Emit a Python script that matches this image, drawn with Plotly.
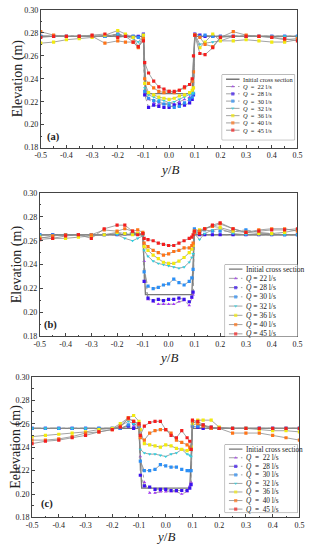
import plotly.graph_objects as go

W, H = 315, 550

# ---------------- data ----------------
y_over_B = [-0.5, -0.45, -0.4, -0.35, -0.3, -0.25, -0.2, -0.17, -0.14, -0.12, -0.1,
            -0.095, -0.08, -0.06, -0.04, -0.02, 0.0, 0.02, 0.04, 0.06, 0.08, 0.09, 0.095,
            0.1, 0.12, 0.14, 0.17, 0.2, 0.25, 0.3, 0.35, 0.4, 0.45, 0.5]
init_x = [-0.5, -0.1, -0.09, 0.09, 0.1, 0.5]

series_labels = ["22", "28", "30", "32", "36", "40", "45"]
x_ticks = [-0.5, -0.4, -0.3, -0.2, -0.1, 0.0, 0.1, 0.2, 0.3, 0.4, 0.5]
y_ticks = [0.18, 0.20, 0.22, 0.24, 0.26, 0.28, 0.30]

# panel (a)
a_init = [0.277, 0.277, 0.227, 0.227, 0.277, 0.277]
a_q22 = [0.277, 0.277, 0.277, 0.277, 0.277, 0.277, 0.278, 0.277, 0.277, 0.277, 0.278,
         0.227, 0.222, 0.219, 0.218, 0.218, 0.219, 0.218, 0.220, 0.222, 0.224, 0.226, 0.228,
         0.279, 0.277, 0.277, 0.277, 0.277, 0.277, 0.277, 0.277, 0.277, 0.277, 0.277]
a_q28 = [0.277, 0.277, 0.277, 0.277, 0.277, 0.277, 0.279, 0.278, 0.277, 0.277, 0.279,
         0.226, 0.215, 0.217, 0.216, 0.215, 0.215, 0.217, 0.218, 0.217, 0.219, 0.222, 0.226,
         0.279, 0.278, 0.277, 0.277, 0.277, 0.277, 0.277, 0.277, 0.277, 0.277, 0.277]
a_q30 = [0.277, 0.277, 0.277, 0.277, 0.277, 0.277, 0.278, 0.277, 0.277, 0.276, 0.278,
         0.229, 0.223, 0.221, 0.220, 0.218, 0.217, 0.215, 0.216, 0.219, 0.222, 0.224, 0.227,
         0.278, 0.277, 0.278, 0.277, 0.277, 0.277, 0.277, 0.277, 0.277, 0.277, 0.277]
a_q32 = [0.277, 0.277, 0.277, 0.277, 0.277, 0.277, 0.279, 0.277, 0.275, 0.272, 0.278,
         0.232, 0.226, 0.224, 0.222, 0.221, 0.219, 0.220, 0.222, 0.224, 0.226, 0.227, 0.228,
         0.279, 0.270, 0.271, 0.272, 0.273, 0.277, 0.277, 0.277, 0.277, 0.277, 0.277]
a_q36 = [0.271, 0.272, 0.274, 0.275, 0.276, 0.278, 0.282, 0.279, 0.276, 0.268, 0.278,
         0.236, 0.228, 0.226, 0.224, 0.223, 0.222, 0.223, 0.225, 0.226, 0.228, 0.230, 0.232,
         0.278, 0.267, 0.272, 0.279, 0.273, 0.273, 0.274, 0.273, 0.272, 0.272, 0.274]
a_q40 = [0.281, 0.278, 0.277, 0.277, 0.277, 0.271, 0.273, 0.272, 0.272, 0.267, 0.275,
         0.240, 0.236, 0.232, 0.229, 0.228, 0.229, 0.228, 0.230, 0.232, 0.235, 0.238, 0.246,
         0.278, 0.276, 0.270, 0.268, 0.276, 0.281, 0.278, 0.277, 0.276, 0.274, 0.275]
a_q45 = [0.276, 0.277, 0.277, 0.277, 0.278, 0.279, 0.276, 0.277, 0.272, 0.268, 0.273,
         0.254, 0.245, 0.238, 0.233, 0.231, 0.229, 0.229, 0.230, 0.233, 0.235, 0.240, 0.260,
         0.278, 0.262, 0.261, 0.267, 0.276, 0.277, 0.277, 0.277, 0.276, 0.275, 0.273]

# panel (b)
b_init = [0.265, 0.265, 0.215, 0.215, 0.265, 0.265]
b_q22 = [0.265, 0.265, 0.265, 0.265, 0.265, 0.265, 0.265, 0.265, 0.266, 0.266, 0.266,
         0.243, 0.211, 0.209, 0.207, 0.207, 0.207, 0.207, 0.209, 0.210, 0.206, 0.212, 0.215,
         0.266, 0.265, 0.265, 0.265, 0.265, 0.265, 0.265, 0.265, 0.265, 0.265, 0.265]
b_q28 = [0.265, 0.265, 0.265, 0.265, 0.265, 0.265, 0.265, 0.266, 0.266, 0.266, 0.266,
         0.226, 0.212, 0.210, 0.211, 0.210, 0.211, 0.211, 0.212, 0.211, 0.209, 0.213, 0.217,
         0.267, 0.265, 0.265, 0.265, 0.265, 0.265, 0.265, 0.265, 0.265, 0.265, 0.265]
b_q30 = [0.265, 0.265, 0.265, 0.265, 0.265, 0.265, 0.266, 0.266, 0.267, 0.266, 0.266,
         0.234, 0.222, 0.220, 0.221, 0.223, 0.224, 0.228, 0.225, 0.223, 0.226, 0.229, 0.236,
         0.270, 0.268, 0.269, 0.268, 0.268, 0.268, 0.269, 0.267, 0.266, 0.265, 0.265]
b_q32 = [0.265, 0.265, 0.265, 0.265, 0.265, 0.265, 0.265, 0.262, 0.260, 0.262, 0.264,
         0.252, 0.247, 0.243, 0.241, 0.240, 0.239, 0.238, 0.237, 0.238, 0.242, 0.246, 0.249,
         0.266, 0.261, 0.266, 0.269, 0.270, 0.266, 0.265, 0.265, 0.265, 0.265, 0.265]
b_q36 = [0.263, 0.262, 0.262, 0.263, 0.264, 0.265, 0.267, 0.266, 0.265, 0.266, 0.266,
         0.255, 0.252, 0.248, 0.245, 0.242, 0.241, 0.241, 0.243, 0.246, 0.250, 0.253, 0.256,
         0.268, 0.269, 0.270, 0.272, 0.271, 0.268, 0.267, 0.266, 0.266, 0.267, 0.269]
b_q40 = [0.262, 0.264, 0.265, 0.265, 0.265, 0.269, 0.268, 0.270, 0.268, 0.269, 0.267,
         0.258, 0.255, 0.252, 0.250, 0.248, 0.249, 0.251, 0.252, 0.254, 0.254, 0.256, 0.258,
         0.267, 0.268, 0.270, 0.272, 0.274, 0.270, 0.267, 0.269, 0.270, 0.270, 0.268]
b_q45 = [0.261, 0.262, 0.264, 0.265, 0.262, 0.270, 0.273, 0.273, 0.268, 0.265, 0.266,
         0.262, 0.261, 0.260, 0.258, 0.257, 0.256, 0.256, 0.258, 0.260, 0.262, 0.263, 0.265,
         0.268, 0.266, 0.270, 0.273, 0.275, 0.270, 0.267, 0.268, 0.269, 0.269, 0.270]

# panel (c)
c_init = [0.256, 0.256, 0.205, 0.205, 0.256, 0.256]
c_q22 = [0.256, 0.256, 0.256, 0.256, 0.256, 0.256, 0.256, 0.256, 0.258, 0.258, 0.258,
         0.232, 0.210, 0.201, 0.201, 0.202, 0.202, 0.202, 0.202, 0.200, 0.202, 0.207, 0.210,
         0.258, 0.257, 0.256, 0.256, 0.256, 0.256, 0.256, 0.256, 0.256, 0.256, 0.256]
c_q28 = [0.256, 0.256, 0.256, 0.256, 0.256, 0.256, 0.256, 0.256, 0.258, 0.256, 0.258,
         0.216, 0.207, 0.206, 0.204, 0.204, 0.204, 0.203, 0.203, 0.203, 0.203, 0.205, 0.208,
         0.258, 0.257, 0.256, 0.256, 0.256, 0.256, 0.256, 0.256, 0.256, 0.256, 0.256]
c_q30 = [0.256, 0.256, 0.256, 0.256, 0.256, 0.256, 0.256, 0.256, 0.259, 0.260, 0.258,
         0.228, 0.220, 0.220, 0.221, 0.225, 0.224, 0.223, 0.223, 0.221, 0.220, 0.220, 0.220,
         0.258, 0.258, 0.259, 0.257, 0.256, 0.256, 0.256, 0.256, 0.256, 0.256, 0.256]
c_q32 = [0.256, 0.256, 0.256, 0.256, 0.256, 0.256, 0.256, 0.258, 0.262, 0.260, 0.258,
         0.238, 0.235, 0.234, 0.234, 0.233, 0.232, 0.234, 0.235, 0.238, 0.234, 0.233, 0.232,
         0.259, 0.260, 0.258, 0.257, 0.256, 0.256, 0.256, 0.256, 0.256, 0.256, 0.256]
c_q36 = [0.249, 0.250, 0.251, 0.252, 0.253, 0.255, 0.256, 0.260, 0.265, 0.267, 0.262,
         0.255, 0.243, 0.242, 0.241, 0.240, 0.242, 0.241, 0.239, 0.238, 0.237, 0.238, 0.240,
         0.260, 0.263, 0.263, 0.263, 0.257, 0.256, 0.256, 0.255, 0.254, 0.254, 0.253]
c_q40 = [0.246, 0.246, 0.247, 0.249, 0.252, 0.253, 0.255, 0.258, 0.264, 0.262, 0.259,
         0.248, 0.246, 0.252, 0.254, 0.255, 0.255, 0.252, 0.246, 0.244, 0.242, 0.240, 0.238,
         0.262, 0.260, 0.258, 0.256, 0.256, 0.252, 0.252, 0.252, 0.250, 0.248, 0.246]
c_q45 = [0.243, 0.245, 0.246, 0.248, 0.250, 0.253, 0.255, 0.257, 0.265, 0.262, 0.260,
         0.250, 0.258, 0.261, 0.262, 0.262, 0.255, 0.250, 0.248, 0.254, 0.248, 0.245, 0.238,
         0.263, 0.262, 0.259, 0.257, 0.256, 0.256, 0.256, 0.256, 0.256, 0.256, 0.256]

# ---------------- styles ----------------
FONT = "Liberation Serif"
colors = ["#A335F5", "#3B12EE", "#2C8FF5", "#2FD0E0", "#F2EA10", "#FF7418", "#F41E1E"]
symbols = ["triangle-up", "square", "square", "triangle-down", "square", "square", "square"]
dashes = ["dashdot", "dashdot", "dashdot", "solid", "solid", "solid", "solid"]
LINE = "#8c8c8c"
AX = "#444444"
TXT = "#222222"
MS = 3.2

panels = [
    dict(tag="(a)", ytitle="Elevation (m)", init=a_init,
         ys=[a_q22, a_q28, a_q30, a_q32, a_q36, a_q40, a_q45],
         px=(36, 302), py=(6, 146), xt=168, ytx=12, lab=(49, 135),
         leg=(224, 72, 299, 138), row0=4.5, drow=7.4, spaced=True, lf=6.4),
    dict(tag="(b)", ytitle="Elevation (m)", init=b_init,
         ys=[b_q22, b_q28, b_q30, b_q32, b_q36, b_q40, b_q45],
         px=(35, 302), py=(192, 338), xt=359, ytx=11, lab=(46, 326),
         leg=(227, 265, 302, 338), row0=4.5, drow=9.4, spaced=False, lf=7.5),
    dict(tag="(c)", ytitle="Eelevation (m)", init=c_init,
         ys=[c_q22, c_q28, c_q30, c_q32, c_q36, c_q40, c_q45],
         px=(27, 304), py=(379, 522), xt=541, ytx=10, lab=(42, 508),
         leg=(227, 448, 302, 517), row0=4.6, drow=8.7, spaced=True, lf=7.3),
]

fig = go.Figure()
layout = dict(width=W, height=H, margin=dict(l=0, r=0, t=0, b=0),
              paper_bgcolor="white", plot_bgcolor="white", showlegend=False,
              font=dict(family=FONT, color=TXT))
annotations = []
shapes = []

for i, p in enumerate(panels):
    n = i + 1
    xa = "x" if n == 1 else f"x{n}"
    ya = "y" if n == 1 else f"y{n}"
    xdom = [p["px"][0] / W, p["px"][1] / W]
    ydom = [1 - p["py"][1] / H, 1 - p["py"][0] / H]
    layout["xaxis" if n == 1 else f"xaxis{n}"] = dict(
        domain=xdom, range=[-0.5, 0.5], anchor=ya, tickvals=x_ticks,
        ticktext=[f"{v:.1f}" for v in x_ticks], ticks="inside", ticklen=3,
        tickcolor=AX, showline=True, linecolor=AX, linewidth=1, mirror=True,
        showgrid=False, zeroline=False, tickfont=dict(size=8, family=FONT, color=TXT),
        minor=dict(ticks="inside", ticklen=1.5, dtick=0.05, tickcolor=AX))
    layout["yaxis" if n == 1 else f"yaxis{n}"] = dict(
        domain=ydom, range=[0.18, 0.30], anchor=xa, tickvals=y_ticks,
        ticktext=[f"{v:.2f}" for v in y_ticks], ticks="inside", ticklen=3,
        tickcolor=AX, showline=True, linecolor=AX, linewidth=1, mirror=True,
        showgrid=False, zeroline=False, tickfont=dict(size=8, family=FONT, color=TXT),
        minor=dict(ticks="inside", ticklen=1.5, dtick=0.01, tickcolor=AX))

    # initial cross section
    fig.add_trace(go.Scatter(x=init_x, y=p["init"], mode="lines", xaxis=xa, yaxis=ya,
                             line=dict(color="#777777", width=1.3)))
    for k, yv in enumerate(p["ys"]):
        fig.add_trace(go.Scatter(
            x=y_over_B, y=yv, mode="lines+markers", xaxis=xa, yaxis=ya,
            line=dict(color=LINE, width=0.8, dash=dashes[k]),
            marker=dict(color=colors[k], size=MS, symbol=symbols[k], line=dict(width=0))))

    # axis titles & panel label
    annotations.append(dict(text="<i>y</i>/<i>B</i>", x=(p["px"][0] + p["px"][1]) / 2 / W,
                            y=1 - p["xt"] / H, xref="paper", yref="paper", showarrow=False,
                            font=dict(size=13, family=FONT, color=TXT),
                            xanchor="center", yanchor="middle"))
    annotations.append(dict(text=p["ytitle"], x=p["ytx"] / W,
                            y=1 - (p["py"][0] + p["py"][1]) / 2 / H, xref="paper", yref="paper",
                            showarrow=False, textangle=-90,
                            font=dict(size=14, family=FONT, color=TXT),
                            xanchor="center", yanchor="middle"))
    annotations.append(dict(text="<b>" + p["tag"] + "</b>", x=p["lab"][0] / W, y=1 - p["lab"][1] / H,
                            xref="paper", yref="paper", showarrow=False,
                            font=dict(size=10.5, family=FONT, color=TXT),
                            xanchor="center", yanchor="middle"))

    # custom legend on its own axis pair
    lx0, ly0, lx1, ly1 = p["leg"]
    lw, lh = lx1 - lx0, ly1 - ly0
    ln = n + 3
    lxa, lya = f"x{ln}", f"y{ln}"
    layout[f"xaxis{ln}"] = dict(domain=[lx0 / W, lx1 / W], range=[0, lw], anchor=lya,
                                visible=False, fixedrange=True)
    layout[f"yaxis{ln}"] = dict(domain=[1 - ly1 / H, 1 - ly0 / H], range=[lh, 0], anchor=lxa,
                                visible=False, fixedrange=True)
    shapes.append(dict(type="rect", xref="paper", yref="paper", x0=lx0 / W, x1=lx1 / W,
                       y0=1 - ly1 / H, y1=1 - ly0 / H, line=dict(color="#666", width=0.8),
                       fillcolor="white", layer="below"))
    rows = [p["row0"] + j * p["drow"] for j in range(8)]
    fig.add_trace(go.Scatter(x=[4, 18], y=[rows[0], rows[0]], mode="lines", xaxis=lxa, yaxis=lya,
                             line=dict(color="#777777", width=1.3)))
    annotations.append(dict(text="Initial cross section", x=20, y=rows[0], xref=lxa, yref=lya,
                            showarrow=False, xanchor="left", yanchor="middle",
                            font=dict(size=p["lf"], family=FONT, color=TXT)))
    for k, lab in enumerate(series_labels):
        r = rows[k + 1]
        fig.add_trace(go.Scatter(x=[4, 11, 18], y=[r, r, r], mode="lines+markers",
                                 xaxis=lxa, yaxis=lya,
                                 line=dict(color=LINE, width=0.8, dash=dashes[k]),
                                 marker=dict(color=colors[k], size=[0, MS, 0], symbol=symbols[k],
                                             line=dict(width=0))))
        eq = "  =  " if p["spaced"] else " = "
        annotations.append(dict(text=f"<i>Q</i>{eq}{lab} l/s", x=20, y=r, xref=lxa, yref=lya,
                                showarrow=False, xanchor="left", yanchor="middle",
                                font=dict(size=p["lf"], family=FONT, color=TXT)))

layout["annotations"] = annotations
layout["shapes"] = shapes
fig.update_layout(**layout)
fig.write_html("out.html", config={"displayModeBar": False},
               post_script="document.body.style.margin='0';")
